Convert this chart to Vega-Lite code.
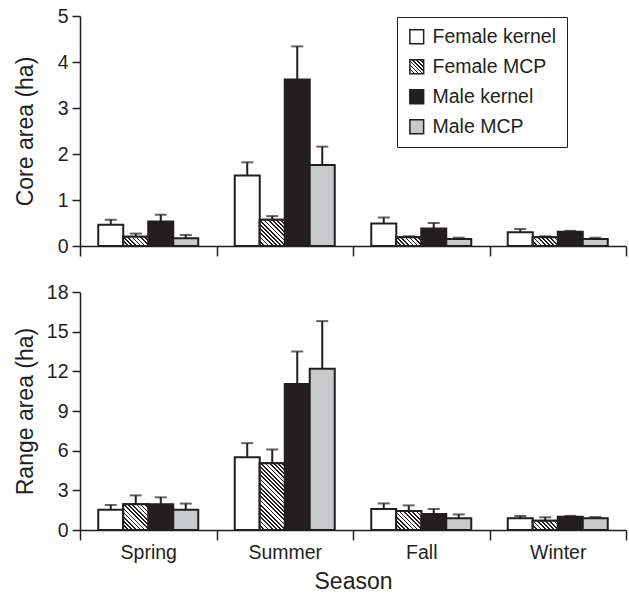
{
  "$schema": "https://vega.github.io/schema/vega-lite/v6.json",
  "padding": {"left": 13, "top": 6, "right": 2, "bottom": 2},
  "config": {
    "font": "Liberation Sans",
    "view": {"stroke": null},
    "concat": {"spacing": 46},
    "axis": {
      "grid": false,
      "labelFontSize": 19.5,
      "titleFontSize": 23,
      "titleFontWeight": "normal",
      "labelColor": "#231f20",
      "titleColor": "#231f20",
      "domainColor": "#231f20",
      "tickColor": "#231f20",
      "domainWidth": 1.5,
      "tickWidth": 1.5,
      "labelPadding": 4
    }
  },
  "params": [
    {"name": "hatchLegend", "value": {"gradient": "linear", "x1": 0, "y1": 1, "x2": 1, "y2": 0, "stops": [
      {"offset": 0, "color": "#231f20"}, {"offset": 0.0571, "color": "#231f20"}, {"offset": 0.0571, "color": "white"}, {"offset": 0.1429, "color": "white"},
      {"offset": 0.1429, "color": "#231f20"}, {"offset": 0.2, "color": "#231f20"}, {"offset": 0.2, "color": "white"}, {"offset": 0.2857, "color": "white"},
      {"offset": 0.2857, "color": "#231f20"}, {"offset": 0.3429, "color": "#231f20"}, {"offset": 0.3429, "color": "white"}, {"offset": 0.4286, "color": "white"},
      {"offset": 0.4286, "color": "#231f20"}, {"offset": 0.4857, "color": "#231f20"}, {"offset": 0.4857, "color": "white"}, {"offset": 0.5714, "color": "white"},
      {"offset": 0.5714, "color": "#231f20"}, {"offset": 0.6286, "color": "#231f20"}, {"offset": 0.6286, "color": "white"}, {"offset": 0.7143, "color": "white"},
      {"offset": 0.7143, "color": "#231f20"}, {"offset": 0.7714, "color": "#231f20"}, {"offset": 0.7714, "color": "white"}, {"offset": 0.8571, "color": "white"},
      {"offset": 0.8571, "color": "#231f20"}, {"offset": 0.9143, "color": "#231f20"}, {"offset": 0.9143, "color": "white"}, {"offset": 1, "color": "white"}
    ]}},
    {"name": "hatchStops", "value": [
      {"offset": 0, "color": "#231f20"}, {"offset": 0.016667, "color": "#231f20"}, {"offset": 0.016667, "color": "white"}, {"offset": 0.041667, "color": "white"},
      {"offset": 0.041667, "color": "#231f20"}, {"offset": 0.058333, "color": "#231f20"}, {"offset": 0.058333, "color": "white"}, {"offset": 0.083333, "color": "white"},
      {"offset": 0.083333, "color": "#231f20"}, {"offset": 0.1, "color": "#231f20"}, {"offset": 0.1, "color": "white"}, {"offset": 0.125, "color": "white"},
      {"offset": 0.125, "color": "#231f20"}, {"offset": 0.141667, "color": "#231f20"}, {"offset": 0.141667, "color": "white"}, {"offset": 0.166667, "color": "white"},
      {"offset": 0.166667, "color": "#231f20"}, {"offset": 0.183333, "color": "#231f20"}, {"offset": 0.183333, "color": "white"}, {"offset": 0.208333, "color": "white"},
      {"offset": 0.208333, "color": "#231f20"}, {"offset": 0.225, "color": "#231f20"}, {"offset": 0.225, "color": "white"}, {"offset": 0.25, "color": "white"},
      {"offset": 0.25, "color": "#231f20"}, {"offset": 0.266667, "color": "#231f20"}, {"offset": 0.266667, "color": "white"}, {"offset": 0.291667, "color": "white"},
      {"offset": 0.291667, "color": "#231f20"}, {"offset": 0.308333, "color": "#231f20"}, {"offset": 0.308333, "color": "white"}, {"offset": 0.333333, "color": "white"},
      {"offset": 0.333333, "color": "#231f20"}, {"offset": 0.35, "color": "#231f20"}, {"offset": 0.35, "color": "white"}, {"offset": 0.375, "color": "white"},
      {"offset": 0.375, "color": "#231f20"}, {"offset": 0.391667, "color": "#231f20"}, {"offset": 0.391667, "color": "white"}, {"offset": 0.416667, "color": "white"},
      {"offset": 0.416667, "color": "#231f20"}, {"offset": 0.433333, "color": "#231f20"}, {"offset": 0.433333, "color": "white"}, {"offset": 0.458333, "color": "white"},
      {"offset": 0.458333, "color": "#231f20"}, {"offset": 0.475, "color": "#231f20"}, {"offset": 0.475, "color": "white"}, {"offset": 0.5, "color": "white"},
      {"offset": 0.5, "color": "#231f20"}, {"offset": 0.516667, "color": "#231f20"}, {"offset": 0.516667, "color": "white"}, {"offset": 0.541667, "color": "white"},
      {"offset": 0.541667, "color": "#231f20"}, {"offset": 0.558333, "color": "#231f20"}, {"offset": 0.558333, "color": "white"}, {"offset": 0.583333, "color": "white"},
      {"offset": 0.583333, "color": "#231f20"}, {"offset": 0.6, "color": "#231f20"}, {"offset": 0.6, "color": "white"}, {"offset": 0.625, "color": "white"},
      {"offset": 0.625, "color": "#231f20"}, {"offset": 0.641667, "color": "#231f20"}, {"offset": 0.641667, "color": "white"}, {"offset": 0.666667, "color": "white"},
      {"offset": 0.666667, "color": "#231f20"}, {"offset": 0.683333, "color": "#231f20"}, {"offset": 0.683333, "color": "white"}, {"offset": 0.708333, "color": "white"},
      {"offset": 0.708333, "color": "#231f20"}, {"offset": 0.725, "color": "#231f20"}, {"offset": 0.725, "color": "white"}, {"offset": 0.75, "color": "white"},
      {"offset": 0.75, "color": "#231f20"}, {"offset": 0.766667, "color": "#231f20"}, {"offset": 0.766667, "color": "white"}, {"offset": 0.791667, "color": "white"},
      {"offset": 0.791667, "color": "#231f20"}, {"offset": 0.808333, "color": "#231f20"}, {"offset": 0.808333, "color": "white"}, {"offset": 0.833333, "color": "white"},
      {"offset": 0.833333, "color": "#231f20"}, {"offset": 0.85, "color": "#231f20"}, {"offset": 0.85, "color": "white"}, {"offset": 0.875, "color": "white"},
      {"offset": 0.875, "color": "#231f20"}, {"offset": 0.891667, "color": "#231f20"}, {"offset": 0.891667, "color": "white"}, {"offset": 0.916667, "color": "white"},
      {"offset": 0.916667, "color": "#231f20"}, {"offset": 0.933333, "color": "#231f20"}, {"offset": 0.933333, "color": "white"}, {"offset": 0.958333, "color": "white"},
      {"offset": 0.958333, "color": "#231f20"}, {"offset": 0.975, "color": "#231f20"}, {"offset": 0.975, "color": "white"}, {"offset": 1, "color": "white"}
    ]}
  ],
  "datasets": {
    "core": [
      {"season": "Spring", "group": "Female kernel", "mean": 0.46, "upper": 0.57},
      {"season": "Spring", "group": "Female MCP", "mean": 0.2, "upper": 0.27},
      {"season": "Spring", "group": "Male kernel", "mean": 0.53, "upper": 0.68},
      {"season": "Spring", "group": "Male MCP", "mean": 0.17, "upper": 0.24},
      {"season": "Summer", "group": "Female kernel", "mean": 1.53, "upper": 1.82},
      {"season": "Summer", "group": "Female MCP", "mean": 0.57, "upper": 0.65},
      {"season": "Summer", "group": "Male kernel", "mean": 3.62, "upper": 4.34},
      {"season": "Summer", "group": "Male MCP", "mean": 1.76, "upper": 2.16},
      {"season": "Fall", "group": "Female kernel", "mean": 0.49, "upper": 0.62},
      {"season": "Fall", "group": "Female MCP", "mean": 0.19, "upper": 0.21},
      {"season": "Fall", "group": "Male kernel", "mean": 0.38, "upper": 0.5},
      {"season": "Fall", "group": "Male MCP", "mean": 0.15, "upper": 0.18},
      {"season": "Winter", "group": "Female kernel", "mean": 0.3, "upper": 0.37},
      {"season": "Winter", "group": "Female MCP", "mean": 0.19, "upper": 0.21},
      {"season": "Winter", "group": "Male kernel", "mean": 0.31, "upper": 0.33},
      {"season": "Winter", "group": "Male MCP", "mean": 0.15, "upper": 0.18}
    ],
    "range": [
      {"season": "Spring", "group": "Female kernel", "mean": 1.53, "upper": 1.89},
      {"season": "Spring", "group": "Female MCP", "mean": 1.94, "upper": 2.62},
      {"season": "Spring", "group": "Male kernel", "mean": 1.94, "upper": 2.47},
      {"season": "Spring", "group": "Male MCP", "mean": 1.53, "upper": 2.0},
      {"season": "Summer", "group": "Female kernel", "mean": 5.51, "upper": 6.57},
      {"season": "Summer", "group": "Female MCP", "mean": 5.04, "upper": 6.09},
      {"season": "Summer", "group": "Male kernel", "mean": 11.05, "upper": 13.5},
      {"season": "Summer", "group": "Male MCP", "mean": 12.2, "upper": 15.8},
      {"season": "Fall", "group": "Female kernel", "mean": 1.59, "upper": 2.01},
      {"season": "Fall", "group": "Female MCP", "mean": 1.43, "upper": 1.86},
      {"season": "Fall", "group": "Male kernel", "mean": 1.21, "upper": 1.59},
      {"season": "Fall", "group": "Male MCP", "mean": 0.88, "upper": 1.18},
      {"season": "Winter", "group": "Female kernel", "mean": 0.88, "upper": 1.06},
      {"season": "Winter", "group": "Female MCP", "mean": 0.7, "upper": 0.96},
      {"season": "Winter", "group": "Male kernel", "mean": 1.01, "upper": 1.07},
      {"season": "Winter", "group": "Male MCP", "mean": 0.88, "upper": 0.98}
    ]
  },
  "bounds": "flush",
  "resolve": {"legend": {"fill": "independent"}},
  "vconcat": [
    {
      "width": 546,
      "height": 230,
      "data": {"name": "core"},
      "encoding": {
        "x": {"field": "season", "type": "nominal", "sort": ["Spring", "Summer", "Fall", "Winter"],
              "scale": {"paddingInner": 0, "paddingOuter": 0},
              "axis": {"tickBand": "extent", "labels": false, "title": null, "tickSize": 10}},
        "xOffset": {"field": "group", "type": "nominal", "sort": ["Female kernel", "Female MCP", "Male kernel", "Male MCP"],
                    "scale": {"paddingInner": 0, "paddingOuter": 0.73}}
      },
      "layer": [
        {
          "mark": {"type": "bar", "stroke": "#231f20", "strokeWidth": 2},
          "encoding": {
            "y": {"field": "mean", "type": "quantitative", "title": "Core area (ha)",
                  "scale": {"domain": [0, 5], "nice": false},
                  "axis": {"values": [0, 1, 2, 3, 4, 5], "format": "d", "tickCount": 10, "tickSize": 8, "labelOverlap": false, "titleX": -48, "titleBaseline": "alphabetic"}},
            "fill": {"field": "group", "type": "nominal", "sort": ["Female kernel", "Female MCP", "Male kernel", "Male MCP"],
                     "scale": {"domain": ["Female kernel", "Female MCP", "Male kernel", "Male MCP"],
                               "range": ["white", {"expr": "hatchLegend"}, "#231f20", "#c8c9cb"]},
                     "legend": {"orient": "none", "legendX": 317, "legendY": 1, "title": null,
                                "symbolType": "square", "symbolSize": 190, "symbolStrokeColor": "#231f20", "symbolStrokeWidth": 1.5,
                                "labelFontSize": 19.5, "labelColor": "#231f20", "labelOffset": 6,
                                "strokeColor": "#231f20", "padding": 10, "rowPadding": 9}}
          }
        },
        {
          "transform": [{"filter": "datum.group === 'Female MCP'"}],
          "mark": {"type": "bar", "stroke": "#231f20", "strokeWidth": 2,
                   "fill": {"expr": "{gradient: 'linear', x1: 0, y1: 1, x2: 25*100.8/(625+pow(datum.mean*46,2)), y2: 1-(datum.mean*46)*100.8/(625+pow(datum.mean*46,2)), stops: hatchStops}"}},
          "encoding": {
            "y": {"field": "mean", "type": "quantitative", "title": "Core area (ha)", "scale": {"domain": [0, 5], "nice": false}}
          }
        },
        {
          "mark": {"type": "rule", "strokeWidth": 2, "color": "#231f20"},
          "encoding": {
            "y": {"field": "mean", "type": "quantitative", "title": "Core area (ha)", "scale": {"domain": [0, 5], "nice": false}},
            "y2": {"field": "upper"}
          }
        },
        {
          "mark": {"type": "tick", "size": 12, "thickness": 2, "color": "#231f20"},
          "encoding": {
            "y": {"field": "upper", "type": "quantitative", "title": "Core area (ha)", "scale": {"domain": [0, 5], "nice": false}}
          }
        }
      ]
    },
    {
      "width": 546,
      "height": 238,
      "data": {"name": "range"},
      "encoding": {
        "x": {"field": "season", "type": "nominal", "sort": ["Spring", "Summer", "Fall", "Winter"],
              "scale": {"paddingInner": 0, "paddingOuter": 0},
              "axis": {"tickBand": "extent", "labelAngle": 0, "title": "Season", "tickSize": 10, "labelPadding": 3, "titlePadding": 9}},
        "xOffset": {"field": "group", "type": "nominal", "sort": ["Female kernel", "Female MCP", "Male kernel", "Male MCP"],
                    "scale": {"paddingInner": 0, "paddingOuter": 0.73}}
      },
      "layer": [
        {
          "mark": {"type": "bar", "stroke": "#231f20", "strokeWidth": 2},
          "encoding": {
            "y": {"field": "mean", "type": "quantitative", "title": "Range area (ha)",
                  "scale": {"domain": [0, 18], "nice": false},
                  "axis": {"values": [0, 3, 6, 9, 12, 15, 18], "format": "d", "tickCount": 10, "tickSize": 8, "labelOverlap": false, "titleX": -48, "titleBaseline": "alphabetic"}},
            "fill": {"field": "group", "type": "nominal", "legend": null}
          }
        },
        {
          "transform": [{"filter": "datum.group === 'Female MCP'"}],
          "mark": {"type": "bar", "stroke": "#231f20", "strokeWidth": 2,
                   "fill": {"expr": "{gradient: 'linear', x1: 0, y1: 1, x2: 25*100.8/(625+pow(datum.mean*13.222,2)), y2: 1-(datum.mean*13.222)*100.8/(625+pow(datum.mean*13.222,2)), stops: hatchStops}"}},
          "encoding": {
            "y": {"field": "mean", "type": "quantitative", "title": "Range area (ha)", "scale": {"domain": [0, 18], "nice": false}}
          }
        },
        {
          "mark": {"type": "rule", "strokeWidth": 2, "color": "#231f20"},
          "encoding": {
            "y": {"field": "mean", "type": "quantitative", "title": "Range area (ha)", "scale": {"domain": [0, 18], "nice": false}},
            "y2": {"field": "upper"}
          }
        },
        {
          "mark": {"type": "tick", "size": 12, "thickness": 2, "color": "#231f20"},
          "encoding": {
            "y": {"field": "upper", "type": "quantitative", "title": "Range area (ha)", "scale": {"domain": [0, 18], "nice": false}}
          }
        }
      ]
    }
  ]
}
